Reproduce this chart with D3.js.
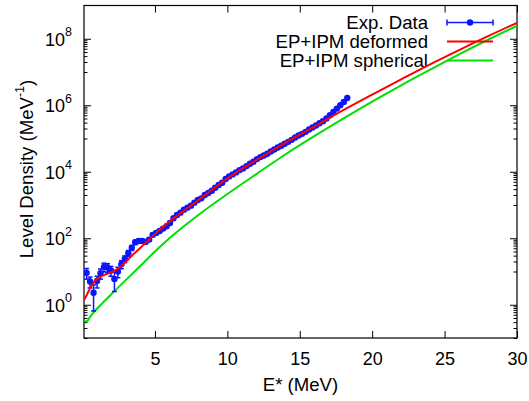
<!DOCTYPE html>
<html><head><meta charset="utf-8">
<script src="https://cdn.jsdelivr.net/npm/d3@7/dist/d3.min.js"></script>
<style>
body{margin:0;background:#fff}
svg{display:block}
text{font-family:"Liberation Sans",Arial,Helvetica,sans-serif;fill:#000}
</style>
</head><body>
<svg id="chart" width="529" height="401"></svg>
<script>
// ---------- data ----------
const expEnergy = [
 0.28,0.52,0.76,1.00,1.24,1.48,1.72,1.96,2.20,2.44,2.68,2.92,3.16,3.40,3.64,3.88,4.12,4.36,4.60,4.84,
 5.08,5.32,5.56,5.80,6.04,6.28,6.52,6.76,7.00,7.24,7.48,7.72,7.96,8.20,8.44,8.68,8.92,9.16,9.40,9.64,
 9.88,10.12,10.36,10.60,10.84,11.08,11.32,11.56,11.80,12.04,12.28,12.52,12.76,13.00,13.24,13.48,13.72,13.96,14.20,14.44,
 14.68,14.92,15.16,15.40,15.64,15.88,16.12,16.36,16.60,16.84,17.08,17.32,17.56,17.80,18.04,18.28];
const expDensity = [
 9.1,5.0,2.3,5.2,8.9,13.8,13.2,10.7,6.0,10.0,16.6,24,35.5,52,76,83,83,78,91,126,
 145,166,195,229,288,398,501,589,724,832,955,1175,1413,1585,1995,2291,2692,3311,3981,4677,
 6026,7244,8318,9550,11220,12590,14790,17380,19950,23990,27540,30900,34670,40740,46770,53700,60260,69180,79430,91200,
 107200,123000,138000,158500,186200,213800,245500,288400,331100,398100,501200,631000,794300,1000000,1260000,1660000];
const expError = [
 3.2,1.8,1.65,2.0,3.0,4.0,4.0,3.5,3.5,3.5,4.5,5.5,7,9,11,11,10,9,10,12,
 13,14,15,17,20,25,30,35,42,48,55,65,78,85,105,120,140,170,200,235,
 300,360,410,470,550,610,720,850,980,1180,1350,1500,1700,2000,2300,2600,2900,3300,3800,4400,
 5100,5900,6600,7600,8900,10200,11700,13800,15800,19000,24000,30000,38000,48000,60000,80000];

const deformedEnergy = [0.1,0.3,0.5,0.75,1,1.5,2,2.5,3,3.5,4,5,6,7,8,10,12,14,16,18,20,22,24,26,28,30];
const deformedDensity = [1.38,2.0,3.0,4.6,6.0,7.9,9.5,12.6,20,33,52,135,316,676,1410,6310,22400,74100,229000,708000,2.09e6,6.03e6,1.70e7,4.57e7,1.20e8,3.02e8];

const sphericalEnergy = [0.1,0.3,0.4,0.5,0.75,1,2,3,4,5,6,7,8,10,12,14,16,18,20,22,24,26,28,30];
const sphericalDensity = [0.32,0.32,0.355,0.42,0.575,0.76,2.1,5.6,14.8,40,100,229,501,2140,8510,33100,117500,398000,1.29e6,3.98e6,1.175e7,3.39e7,9.33e7,2.45e8];

const xTickValues = [5,10,15,20,25,30];
const yTickValues = [1,1e2,1e4,1e6,1e8];
const yTickExponents = ["0","2","4","6","8"];
const legendLabels = ["Exp. Data","EP+IPM deformed","EP+IPM spherical"];

// ---------- layout ----------
const L = 84, R = 517, T = 5.5, B = 338;
const svg = d3.select("#chart");
const x = d3.scaleLinear().domain([0.1,30]).range([L,R]);
const y = d3.scaleLog().domain([0.1,1e9]).range([B,T]);

const colBlue = "#0a14ff", colRed = "#ff0000", colGreen = "#00e000";
const FONT = '"Liberation Sans",Arial,Helvetica,sans-serif';

// minor y ticks (gnuplot style: multiples of the lower major tic)
const yMinor = [];
[-1,1,3,5,7].forEach(m => { for (let k=1;k<=9;k++){ const v = k*Math.pow(10,m); if (v>=0.1 && v<=1e9) yMinor.push(v);} });

// axes
const gx = svg.append("g").attr("transform",`translate(0,${B})`)
  .call(d3.axisBottom(x).tickValues(xTickValues).tickFormat(d3.format("d")).tickSizeInner(-7).tickSizeOuter(0).tickPadding(14));
const gxTop = svg.append("g").attr("transform",`translate(0,${T})`)
  .call(d3.axisTop(x).tickValues(xTickValues).tickFormat("").tickSizeInner(-7).tickSizeOuter(0));
const gyMinor = svg.append("g").attr("transform",`translate(${L},0)`)
  .call(d3.axisLeft(y).tickValues(yMinor).tickFormat("").tickSizeInner(-3.5).tickSizeOuter(0));
const gyMinorR = svg.append("g").attr("transform",`translate(${R},0)`)
  .call(d3.axisRight(y).tickValues(yMinor).tickFormat("").tickSizeInner(-3.5).tickSizeOuter(0));
const gy = svg.append("g").attr("transform",`translate(${L},0)`)
  .call(d3.axisLeft(y).tickValues(yTickValues).tickFormat("").tickSizeInner(-7).tickSizeOuter(0).tickPadding(12));
const gyR = svg.append("g").attr("transform",`translate(${R},0)`)
  .call(d3.axisRight(y).tickValues(yTickValues).tickFormat("").tickSizeInner(-7).tickSizeOuter(0));

[gx,gxTop,gy,gyR,gyMinor,gyMinorR].forEach(g => {
  g.select(".domain").remove();
  g.selectAll(".tick line").attr("stroke","#000").attr("stroke-width",1);
});
gx.selectAll(".tick text").attr("font-size","18px").attr("font-family",FONT).attr("fill","#000");

gy.selectAll(".tick text").each(function(d,i){
  const t = d3.select(this).text(null).attr("font-size","18px").attr("font-family",FONT).attr("fill","#000").attr("dy","0.35em");
  t.append("tspan").text("10");
  t.append("tspan").attr("font-size","12.5px").attr("dy","-0.75em").text(yTickExponents[i]);
});

// frame
svg.append("rect").attr("x",L).attr("y",T).attr("width",R-L).attr("height",B-T)
  .attr("fill","none").attr("stroke","#000").attr("stroke-width",1.2);

// axis titles
svg.append("text").attr("x",(L+R)/2).attr("y",391).attr("text-anchor","middle").attr("font-size","18.6px").text("E* (MeV)");
const yt = svg.append("text").attr("transform","translate(33,169) rotate(-90)").attr("text-anchor","middle").attr("font-size","18.6px");
yt.append("tspan").text("Level Density (MeV");
yt.append("tspan").attr("font-size","12.5px").attr("dy","-0.7em").text("-1");
yt.append("tspan").attr("dy","0.45em").text(")");

// legend text
const legY = [22.5,41.5,60.5];
legendLabels.forEach((lab,i)=>{
  svg.append("text").attr("x",428).attr("y",legY[i]).attr("dy","0.35em").attr("text-anchor","end").attr("font-size","18.6px").text(lab);
});

// clip
svg.append("clipPath").attr("id","clip").append("rect").attr("x",L).attr("y",T).attr("width",R-L).attr("height",B-T);
const plot = svg.append("g").attr("clip-path","url(#clip)");

// curves
const line = d3.line().x(d=>x(d[0])).y(d=>y(d[1])).curve(d3.curveMonotoneX);
plot.append("path").datum(sphericalEnergy.map((e,i)=>[e,sphericalDensity[i]]))
  .attr("d",line).attr("fill","none").attr("stroke",colGreen).attr("stroke-width",2);

// experimental data with error bars
const expData = expEnergy.map((e,i)=>({e, v:expDensity[i], err:expError[i]}));
const eb = plot.append("g").attr("stroke",colBlue).attr("stroke-width",1.5);
expData.forEach(d=>{
  const y1 = y(Math.max(d.v-d.err,0.11)), y2 = y(d.v+d.err), cx = x(d.e);
  eb.append("line").attr("x1",cx).attr("x2",cx).attr("y1",y1).attr("y2",y2);
  eb.append("line").attr("x1",cx-2.5).attr("x2",cx+2.5).attr("y1",y1).attr("y2",y1);
  eb.append("line").attr("x1",cx-2.5).attr("x2",cx+2.5).attr("y1",y2).attr("y2",y2);
});
plot.append("g").selectAll("circle").data(expData).join("circle")
  .attr("cx",d=>x(d.e)).attr("cy",d=>y(d.v)).attr("r",3.2).attr("fill",colBlue);

plot.append("path").datum(deformedEnergy.map((e,i)=>[e,deformedDensity[i]]))
  .attr("d",line).attr("fill","none").attr("stroke",colRed).attr("stroke-width",2);

// legend samples
const lx1 = 447, lx2 = 493;
svg.append("line").attr("x1",lx1).attr("x2",lx2).attr("y1",legY[0]).attr("y2",legY[0]).attr("stroke",colBlue).attr("stroke-width",1.5);
[lx1,lx2].forEach(xx=>svg.append("line").attr("x1",xx).attr("x2",xx).attr("y1",legY[0]-3).attr("y2",legY[0]+3).attr("stroke",colBlue).attr("stroke-width",1.5));
svg.append("circle").attr("cx",(lx1+lx2)/2).attr("cy",legY[0]).attr("r",3.2).attr("fill",colBlue);
svg.append("line").attr("x1",lx1).attr("x2",lx2).attr("y1",legY[1]).attr("y2",legY[1]).attr("stroke",colRed).attr("stroke-width",2);
svg.append("line").attr("x1",lx1).attr("x2",lx2).attr("y1",legY[2]).attr("y2",legY[2]).attr("stroke",colGreen).attr("stroke-width",2);
</script></body></html>
